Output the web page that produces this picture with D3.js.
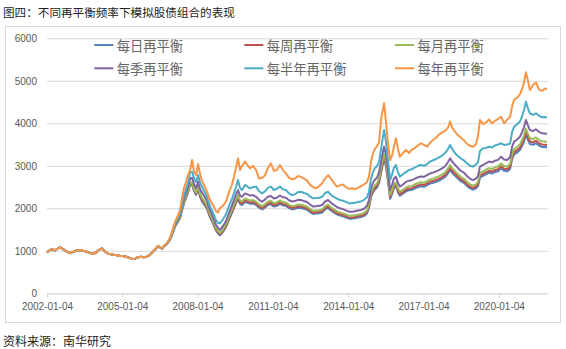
<!DOCTYPE html>
<html><head><meta charset="utf-8">
<script src="https://cdn.jsdelivr.net/npm/d3@7/dist/d3.min.js"></script>
<style>body{margin:0;background:#fff}svg{display:block}</style>
</head><body>
<svg id="chart" width="566" height="349"></svg>
<script>
// ---------------- data ----------------
const titleText = "图四：不同再平衡频率下模拟股债组合的表现";
const sourceText = "资料来源：南华研究";
const seriesNames = ["每日再平衡","每周再平衡","每月再平衡","每季再平衡","每半年再平衡","每年再平衡"];
const tickLabels = ["2002-01-04","2005-01-04","2008-01-04","2011-01-04","2014-01-04","2017-01-04","2020-01-04"];
const yTicks = [0,1000,2000,3000,4000,5000,6000];

// years elapsed since 2002-01-04 for each sample
const yearsSinceStart = [
0,0.12,0.20,0.32,0.44,0.52,0.64,0.76,0.92,1.04,
1.16,1.31,1.43,1.55,1.71,1.83,1.95,2.07,2.19,2.31,
2.43,2.55,2.67,2.79,2.91,3.03,3.15,3.27,3.39,3.51,
3.63,3.75,3.86,3.98,4.10,4.22,4.34,4.42,4.50,4.58,
4.66,4.78,
4.90,4.98,5.10,5.18,5.30,5.38,5.46,5.54,5.62,5.70,
5.78,5.86,5.94,6.02,6.10,6.18,6.25,6.37,6.49,6.61,
6.73,6.81,6.89,7.01,7.13,7.25,7.37,7.45,7.53,7.61,
7.69,7.77,7.89,8.01,8.09,8.21,8.33,8.45,8.57,8.69,
8.80,8.92,9.04,9.16,9.28,9.40,9.52,9.64,9.76,9.88,
10.00,10.12,10.24,10.36,10.48,10.60,10.72,10.84,10.96,11.08,
11.20,11.31,11.43,11.55,11.67,11.79,11.91,12.03,12.15,12.27,
12.39,12.51,12.63,12.75,12.83,12.91,12.99,13.07,13.15,13.23,
13.31,13.39,13.43,13.51,13.59,13.67,13.75,13.82,13.90,13.98,
14.06,14.18,14.30,14.42,14.54,14.66,14.78,14.90,15.02,15.14,
15.26,15.38,15.50,15.62,15.74,15.86,15.98,16.06,16.14,16.26,
16.37,16.49,16.61,16.73,16.85,16.97,17.09,17.17,17.25,17.37,
17.49,17.61,17.73,17.85,17.97,18.09,18.21,18.33,18.45,18.53,
18.61,18.73,18.84,18.92,19.00,19.08,19.16,19.24,19.36,19.48,
19.60,19.72,19.84,19.92];

const daily = [
960,1020,1040,1010,1060,1080,1040,990,945,975,
1000,1020,1000,985,950,925,960,1020,1060,985,
930,920,905,895,880,875,860,840,810,815,
850,860,845,860,904,972,1050,1108,1079,1050,
1109,1163,
1260,1375,1570,1645,1770,1955,2120,2245,2370,2550,
2560,2405,2315,2460,2265,2159,2105,1995,1793,1647,
1482,1409,1363,1446,1556,1729,1894,2008,2123,2223,
2105,2077,2150,2123,2105,2114,2077,2013,1972,2022,
2077,2095,2040,2059,2105,2068,2059,2004,1976,1986,
2013,2008,1986,1967,1912,1867,1876,1885,1901,1976,
2008,1949,1903,1857,1830,1812,1784,1757,1757,1766,
1784,1793,1821,1885,2013,2269,2379,2452,2489,2608,
2837,3065,3157,2974,2608,2223,2342,2471,2512,2379,
2297,2342,2397,2425,2434,2471,2498,2516,2507,2544,
2580,2599,2626,2654,2690,2736,2827,2906,2837,2763,
2699,2635,2599,2525,2471,2438,2471,2525,2727,2763,
2800,2837,2818,2855,2873,2942,2882,2869,2928,3157,
3267,3312,3372,3459,3569,3733,3614,3514,3495,3532,
3477,3445,3440,3431];

const weekly = [
960,1020,1040,1010,1060,1080,1040,990,945,975,
1000,1020,1000,985,950,925,960,1020,1060,985,
930,920,905,895,880,875,860,840,810,815,
850,860,845,860,905,973,1051,1109,1080,1051,
1110,1164,
1265,1385,1580,1655,1780,1970,2135,2265,2390,2575,
2590,2430,2345,2490,2300,2195,2139,2027,1823,1674,
1507,1432,1386,1469,1581,1758,1925,2041,2158,2260,
2139,2111,2186,2158,2139,2148,2111,2046,2004,2055,
2111,2130,2074,2093,2139,2102,2093,2037,2009,2018,
2046,2041,2018,2000,1944,1897,1907,1916,1933,2009,
2041,1981,1934,1888,1860,1841,1814,1786,1786,1795,
1814,1823,1851,1916,2046,2306,2418,2492,2530,2651,
2883,3116,3209,3023,2651,2260,2381,2511,2553,2418,
2334,2381,2437,2465,2474,2511,2539,2558,2548,2585,
2623,2641,2669,2697,2734,2781,2874,2954,2883,2809,
2744,2678,2641,2567,2511,2478,2511,2567,2771,2809,
2846,2883,2864,2902,2920,2990,2930,2916,2976,3209,
3320,3367,3427,3515,3627,3794,3674,3571,3553,3590,
3534,3501,3497,3488];

const monthly = [
960,1020,1040,1010,1060,1080,1040,990,945,975,
1000,1020,1000,985,950,925,960,1020,1060,985,
930,920,905,895,880,875,860,840,810,815,
850,860,845,860,906,974,1052,1110,1081,1052,
1111,1165,
1270,1390,1590,1665,1795,1985,2155,2285,2415,2600,
2615,2460,2370,2520,2340,2242,2185,2071,1862,1710,
1539,1463,1416,1501,1615,1796,1967,2085,2204,2309,
2185,2157,2233,2204,2185,2195,2157,2090,2047,2100,
2157,2176,2119,2138,2185,2147,2138,2081,2052,2062,
2090,2085,2062,2043,1986,1938,1948,1957,1974,2052,
2085,2024,1976,1929,1900,1881,1853,1824,1824,1834,
1853,1862,1891,1957,2090,2356,2470,2546,2584,2708,
2945,3183,3278,3088,2708,2309,2432,2565,2608,2470,
2385,2432,2489,2518,2527,2565,2594,2613,2603,2641,
2679,2698,2727,2755,2793,2841,2936,3017,2945,2869,
2803,2736,2698,2622,2565,2532,2565,2622,2831,2869,
2907,2945,2926,2964,2983,3054,2993,2979,3040,3278,
3392,3439,3501,3591,3705,3876,3753,3648,3629,3667,
3610,3577,3572,3563];

const quarterly = [
960,1020,1040,1010,1060,1080,1040,990,945,975,
1000,1020,1000,985,950,925,960,1020,1060,985,
930,920,905,895,880,875,860,840,810,815,
850,860,845,860,907,975,1054,1112,1083,1054,
1113,1167,
1285,1410,1620,1700,1840,2040,2220,2360,2500,2700,
2720,2560,2470,2625,2450,2360,2300,2180,1960,1800,
1620,1540,1490,1580,1700,1890,2070,2195,2320,2430,
2300,2270,2350,2320,2300,2310,2270,2200,2155,2210,
2270,2290,2230,2250,2300,2260,2250,2190,2160,2170,
2200,2195,2170,2150,2090,2040,2050,2060,2078,2160,
2195,2130,2080,2030,2000,1980,1950,1920,1920,1930,
1950,1960,1990,2060,2200,2480,2600,2680,2720,2850,
3100,3350,3450,3250,2850,2430,2560,2700,2745,2600,
2510,2560,2620,2650,2660,2700,2730,2750,2740,2780,
2820,2840,2870,2900,2940,2990,3090,3176,3100,3020,
2950,2880,2840,2760,2700,2665,2700,2760,2980,3020,
3060,3100,3080,3120,3140,3215,3150,3136,3200,3450,
3570,3620,3685,3780,3900,4080,3950,3840,3820,3860,
3800,3765,3760,3750];

const semiannual = [
960,1020,1040,1010,1060,1080,1040,990,945,975,
1000,1020,1000,985,950,925,960,1020,1060,985,
930,920,905,895,880,875,860,840,810,815,
850,860,845,860,908,977,1056,1115,1086,1056,
1116,1170,
1290,1420,1640,1720,1880,2100,2300,2450,2600,2850,
2860,2700,2620,2780,2600,2500,2420,2270,2050,1900,
1720,1660,1647,1740,1860,2050,2220,2350,2500,2665,
2480,2430,2550,2500,2470,2500,2510,2400,2350,2400,
2480,2510,2430,2460,2510,2450,2430,2350,2310,2330,
2380,2390,2360,2340,2280,2235,2240,2250,2270,2360,
2390,2320,2270,2230,2195,2180,2150,2120,2118,2130,
2150,2160,2200,2260,2400,2700,2850,2950,2990,3100,
3400,3700,3840,3550,3100,2665,2800,2950,3020,2850,
2745,2800,2850,2900,2920,2960,3000,3020,3000,3040,
3100,3130,3160,3200,3240,3300,3400,3490,3400,3295,
3230,3170,3130,3060,3000,2980,3030,3080,3350,3410,
3420,3450,3430,3480,3500,3530,3490,3500,3520,3800,
3920,3980,4040,4150,4300,4510,4350,4235,4200,4235,
4180,4140,4150,4140];

const annual = [
960,1020,1040,1010,1060,1080,1040,990,945,975,
1000,1020,1000,985,950,925,960,1020,1060,985,
930,920,905,895,880,875,860,840,810,815,
850,860,845,860,910,980,1060,1120,1090,1060,
1120,1175,
1300,1450,1685,1780,1960,2250,2480,2620,2780,2900,
3136,2850,2780,3040,2800,2640,2560,2400,2200,2080,
1940,1900,2000,2060,2160,2380,2560,2745,2950,3176,
2900,3000,3100,3000,2940,3000,2900,2700,2720,2780,
2950,3060,2880,2900,3020,2900,2820,2720,2680,2700,
2760,2740,2700,2650,2550,2500,2470,2520,2590,2700,
2780,2700,2600,2510,2540,2560,2500,2460,2470,2450,
2480,2520,2560,2620,2750,3100,3300,3410,3460,3550,
4100,4350,4470,4000,3500,3136,3250,3450,3650,3400,
3215,3300,3370,3300,3380,3420,3480,3530,3490,3450,
3540,3610,3660,3740,3780,3820,3900,4040,3900,3800,
3725,3660,3600,3520,3470,3450,3500,3700,4080,3980,
4020,4090,4000,4060,4100,4155,4000,4080,4155,4400,
4560,4600,4680,4800,4950,5200,5000,4780,4900,4960,
4800,4760,4820,4800];

const seriesValues = [daily, weekly, monthly, quarterly, semiannual, annual];
const seriesColors = ["#4F81BD","#C0504D","#9BBB59","#8064A2","#4BACC6","#F79646"];

// ---------------- drawing ----------------
const svg = d3.select("#chart");
const cjk = "'Noto Sans CJK SC','Noto Sans',sans-serif";
const num = "'Liberation Sans',Arial,sans-serif";
const plot = {left:47, right:547, top:38.3, bottom:293.3};

svg.append("rect").attr("x",5.5).attr("y",26.5).attr("width",555).attr("height",296)
  .attr("fill","#fff").attr("stroke","#d9d9d9").attr("stroke-width",1);

svg.append("text").attr("x",3).attr("y",17).text(titleText)
  .attr("font-family",cjk).attr("font-size",11.6).attr("fill","#222");
svg.append("text").attr("x",3).attr("y",340).attr("dominant-baseline","central").text(sourceText)
  .attr("font-family",cjk).attr("font-size",12).attr("fill","#222");

const x = d3.scaleLinear().domain([0, d3.max(yearsSinceStart)]).range([plot.left, plot.right]);
const y = d3.scaleLinear().domain([0, 6000]).range([plot.bottom, plot.top]);

const yAxis = svg.append("g").attr("transform",`translate(${plot.left},0)`)
  .call(d3.axisLeft(y).tickValues(yTicks).tickFormat(d3.format("d"))
    .tickSize(-(plot.right - plot.left + 1)).tickPadding(10));
yAxis.select(".domain").remove();
yAxis.selectAll("line").attr("stroke","#d9d9d9");
yAxis.selectAll("text").attr("font-family",num).attr("font-size",10).attr("fill","#595959");

const xAxis = svg.append("g").attr("transform",`translate(0,${plot.bottom})`)
  .call(d3.axisBottom(x).tickValues(tickLabels.map((_,i)=>i*3))
    .tickFormat((d,i)=>tickLabels[i]).tickSize(4).tickSizeOuter(0).tickPadding(5.5));
xAxis.select(".domain").attr("stroke","#d9d9d9");
xAxis.selectAll("line").attr("stroke","#d9d9d9");
xAxis.selectAll("text").attr("font-family",num).attr("font-size",10).attr("fill","#595959");

const line = d3.line().x((d,i)=>x(yearsSinceStart[i])).y(d=>y(d));
seriesValues.forEach((vals,k)=>{
  svg.append("path").datum(vals).attr("d",line)
    .attr("fill","none").attr("stroke",seriesColors[k]).attr("stroke-width",2)
    .attr("stroke-linejoin","round");
});

// legend
const legCols = [94.3, 244.3, 395], legRows = [45, 68.3];
seriesNames.forEach((name,k)=>{
  const lx = legCols[k%3], ly = legRows[Math.floor(k/3)];
  const g = svg.append("g");
  g.append("line").attr("x1",lx).attr("x2",lx+19).attr("y1",ly).attr("y2",ly)
    .attr("stroke",seriesColors[k]).attr("stroke-width",2);
  g.append("text").attr("x",lx+22.4).attr("y",ly).attr("dominant-baseline","central")
    .text(name).attr("font-family",cjk).attr("font-size",13.3).attr("fill","#666");
});
</script>
</body></html>
